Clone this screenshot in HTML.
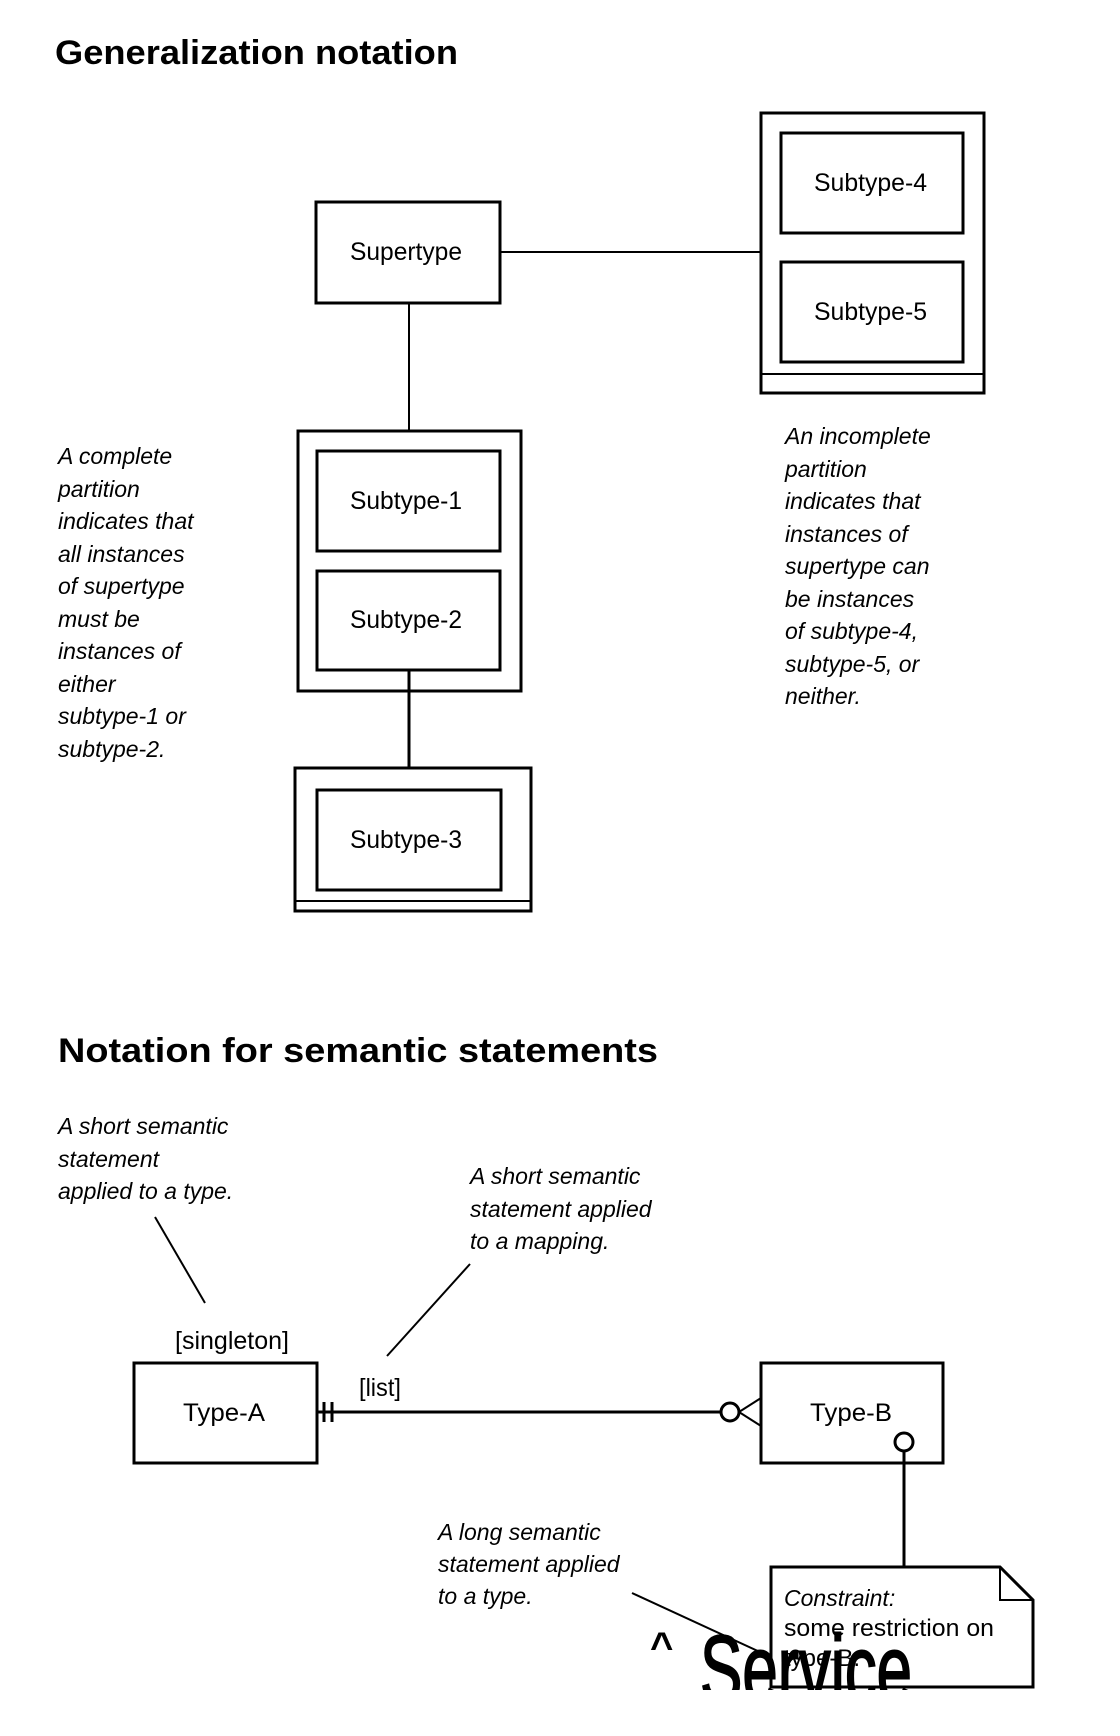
<!DOCTYPE html>
<html><head><meta charset="utf-8"><style>
html,body{margin:0;padding:0;background:#fff;width:1120px;height:1736px;overflow:hidden}
svg{display:block}
text{font-family:"Liberation Sans",sans-serif;fill:#000}
.b{font-size:25px}
.i{font-size:23px;font-style:italic}
</style></head><body>
<svg width="1120" height="1736" viewBox="0 0 1120 1736">
<g stroke="#000" fill="none" stroke-width="3">
<rect x="316" y="202" width="184" height="101"/>
<rect x="761" y="113" width="223" height="280"/>
<line x1="761" y1="374" x2="984" y2="374" stroke-width="2"/>
<rect x="781" y="133" width="182" height="100"/>
<rect x="781" y="262" width="182" height="100"/>
<line x1="500" y1="252" x2="761" y2="252" stroke-width="2"/>
<line x1="409" y1="303" x2="409" y2="431" stroke-width="2"/>
<rect x="298" y="431" width="223" height="260"/>
<rect x="317" y="451" width="183" height="100"/>
<rect x="317" y="571" width="183" height="99"/>
<line x1="409" y1="670" x2="409" y2="768"/>
<rect x="295" y="768" width="236" height="143"/>
<line x1="295" y1="901" x2="531" y2="901" stroke-width="2"/>
<rect x="317" y="790" width="184" height="100"/>
<line x1="155" y1="1217" x2="205" y2="1303" stroke-width="2"/>
<rect x="134" y="1363" width="183" height="100"/>
<rect x="761" y="1363" width="182" height="100"/>
<line x1="317" y1="1412" x2="721" y2="1412"/>
<line x1="324" y1="1402" x2="324" y2="1422"/>
<line x1="332" y1="1402" x2="332" y2="1422"/>
<circle cx="730" cy="1412" r="9"/>
<line x1="739" y1="1412" x2="761" y2="1398" stroke-width="2"/>
<line x1="739" y1="1412" x2="761" y2="1426" stroke-width="2"/>
<line x1="470" y1="1264" x2="387" y2="1356" stroke-width="2"/>
<circle cx="904" cy="1442" r="9"/>
<line x1="904" y1="1451" x2="904" y2="1567"/>
<path d="M771 1567 H1000 L1033 1600 V1687 H771 Z"/>
<path d="M1000 1567 V1600 H1033" stroke-width="2"/>
<line x1="632" y1="1593" x2="760" y2="1652" stroke-width="2"/>
</g>
<text x="55" y="64" font-size="34" font-weight="bold" textLength="403" lengthAdjust="spacingAndGlyphs">Generalization notation</text>
<text class="b" x="350" y="260" textLength="112" lengthAdjust="spacingAndGlyphs">Supertype</text>
<text class="b" x="814" y="191" textLength="113" lengthAdjust="spacingAndGlyphs">Subtype-4</text>
<text class="b" x="814" y="320" textLength="113" lengthAdjust="spacingAndGlyphs">Subtype-5</text>
<text class="b" x="350" y="509" textLength="112" lengthAdjust="spacingAndGlyphs">Subtype-1</text>
<text class="b" x="350" y="628" textLength="112" lengthAdjust="spacingAndGlyphs">Subtype-2</text>
<text class="b" x="350" y="848" textLength="112" lengthAdjust="spacingAndGlyphs">Subtype-3</text>
<g class="i">
<text x="58" y="464">A complete</text>
<text x="58" y="497">partition</text>
<text x="58" y="529">indicates that</text>
<text x="58" y="562">all instances</text>
<text x="58" y="594">of supertype</text>
<text x="58" y="627">must be</text>
<text x="58" y="659">instances of</text>
<text x="58" y="692">either</text>
<text x="58" y="724">subtype-1 or</text>
<text x="58" y="757">subtype-2.</text>
</g>
<g class="i">
<text x="785" y="444">An incomplete</text>
<text x="785" y="477">partition</text>
<text x="785" y="509">indicates that</text>
<text x="785" y="542">instances of</text>
<text x="785" y="574">supertype can</text>
<text x="785" y="607">be instances</text>
<text x="785" y="639">of subtype-4,</text>
<text x="785" y="672">subtype-5, or</text>
<text x="785" y="704">neither.</text>
</g>
<text x="58" y="1062" font-size="34" font-weight="bold" textLength="600" lengthAdjust="spacingAndGlyphs">Notation for semantic statements</text>
<g class="i">
<text x="58" y="1134">A short semantic</text>
<text x="58" y="1167">statement</text>
<text x="58" y="1199">applied to a type.</text>
<text x="470" y="1184">A short semantic</text>
<text x="470" y="1217">statement applied</text>
<text x="470" y="1249">to a mapping.</text>
<text x="438" y="1540">A long semantic</text>
<text x="438" y="1572">statement applied</text>
<text x="438" y="1604">to a type.</text>
<text x="784" y="1606">Constraint:</text>
</g>
<text class="b" x="175" y="1349" textLength="114" lengthAdjust="spacingAndGlyphs">[singleton]</text>
<text class="b" x="359" y="1396" textLength="42" lengthAdjust="spacingAndGlyphs">[list]</text>
<text class="b" x="183" y="1421" textLength="82" lengthAdjust="spacingAndGlyphs">Type-A</text>
<text class="b" x="810" y="1421" textLength="82" lengthAdjust="spacingAndGlyphs">Type-B</text>
<text x="784" y="1636" font-size="24" textLength="210" lengthAdjust="spacingAndGlyphs">some restriction on</text>
<text x="784" y="1666" font-size="24">type-B.</text>
<defs><clipPath id="c"><rect x="0" y="0" width="1120" height="1690"/></clipPath></defs>
<g clip-path="url(#c)">
<text x="650" y="1660" font-size="40" font-weight="bold">^</text>
<text x="700" y="1702" font-size="96" textLength="212" lengthAdjust="spacingAndGlyphs" stroke="#000" stroke-width="2">Service</text>
</g>
</svg>
</body></html>
